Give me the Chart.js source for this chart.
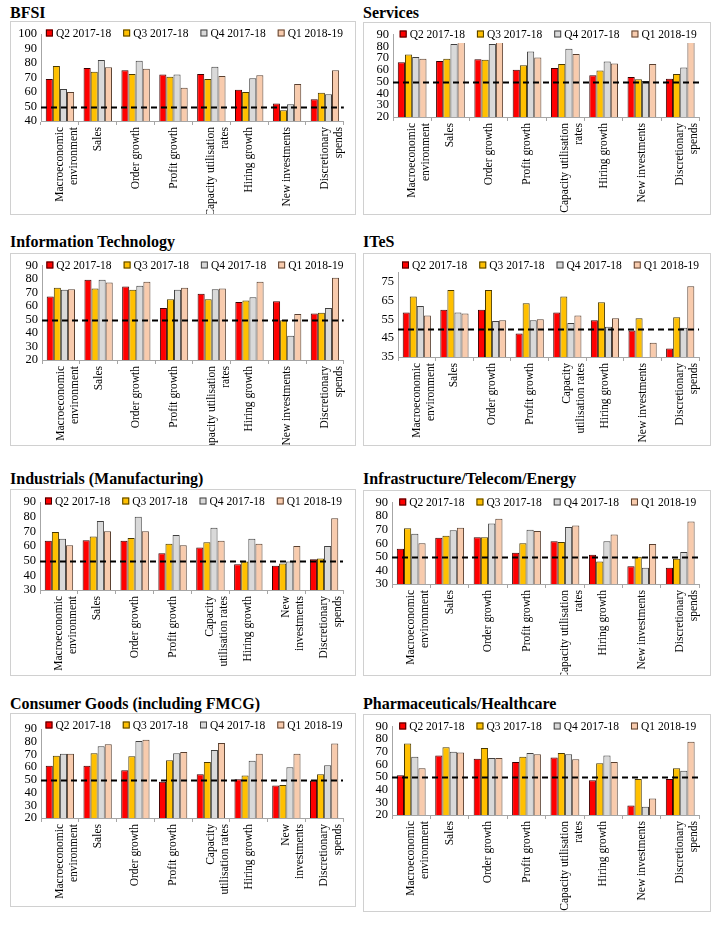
<!DOCTYPE html>
<html>
<head>
<meta charset="utf-8">
<script src="https://cdn.jsdelivr.net/npm/chart.js@4.4.1/dist/chart.umd.min.js"></script>
<style>
  body { margin: 0; background: #fff; font-family: "Liberation Serif", serif; }
  #page { position: relative; width: 720px; height: 928px; }
  .title { position: absolute; font-weight: bold; font-size: 16px; line-height: 16px; color: #000; white-space: nowrap; }
  .box { position: absolute; border: 1px solid #d0d0d0; box-sizing: border-box; }
  .box canvas { display: block; }
</style>
</head>
<body>
<div id="page"></div>
<script>
// series names
const seriesLabels = ['Q2 2017-18', 'Q3 2017-18', 'Q4 2017-18', 'Q1 2018-19'];

// category labels (line breaks differ a bit between panels)
const categoriesStd = [['Macroeconomic', 'environment'], 'Sales', 'Order growth', 'Profit growth',
  ['Capacity utilisation', 'rates'], 'Hiring growth', 'New investments', ['Discretionary', 'spends']];
const categoriesItes = [['Macroeconomic', 'environment'], 'Sales', 'Order growth', 'Profit growth',
  ['Capacity', 'utilisation rates'], 'Hiring growth', 'New investments', ['Discretionary', 'spends']];
const categoriesMfg = [['Macroeconomic', 'environment'], 'Sales', 'Order growth', 'Profit growth',
  ['Capacity', 'utilisation rates'], 'Hiring growth', ['New', 'investments'], ['Discretionary', 'spends']];

// y tick labels
const ticks40to100 = [40, 50, 60, 70, 80, 90, 100];
const ticks20to90 = [20, 30, 40, 50, 60, 70, 80, 90];
const ticks30to90 = [30, 40, 50, 60, 70, 80, 90];
const ticks35to75 = [35, 45, 55, 65, 75];

// neutral level drawn as the dashed line
const neutralLevel = 50;

// BFSI
const bfsiQ2 = [69, 76.5, 75, 72, 72.5, 61.5, 52, 55];
const bfsiQ3 = [78, 74, 72.5, 70.5, 69, 60, 47.5, 59.5];
const bfsiQ4 = [62, 82, 81.5, 72, 77.5, 69.5, 51.5, 58.5];
const bfsiQ1 = [60, 77, 76, 63, 71, 71.5, 65.5, 75];

// Services
const servQ2 = [66.5, 67.5, 69, 60, 61.5, 55.5, 54, 52.5];
const servQ3 = [73, 69.5, 68.5, 64, 65, 59.5, 52, 56.5];
const servQ4 = [71, 82, 82, 75.5, 78, 67, 50.5, 62];
const servQ1 = [69.5, 84, 84, 70.5, 73.5, 65.5, 65, 84];

// Information Technology
const itQ2 = [67, 79.5, 74.5, 58.5, 69, 63, 63.5, 54.5];
const itQ3 = [73.5, 73, 72, 65, 65, 64, 49.5, 55];
const itQ4 = [72, 79.5, 75, 72, 72.5, 66.5, 38, 58.5];
const itQ1 = [72.5, 77.5, 78, 73.5, 73, 78, 54, 81];

// ITeS
const itesQ2 = [58.5, 60, 60, 47.5, 58.5, 54.5, 49, 39.5];
const itesQ3 = [67, 70.5, 70.5, 63.5, 67, 64, 55.5, 56];
const itesQ4 = [62, 58.5, 54, 54.5, 53, 51, 34, 50.5];
const itesQ1 = [57, 58, 54.5, 55, 57, 55.5, 42.5, 72.5];

// Industrials (Manufacturing)
const mfgQ2 = [63.5, 64, 63.5, 55, 59, 47.5, 46.5, 51];
const mfgQ3 = [69.5, 66.5, 65.5, 61.5, 62.5, 49.5, 48, 51.5];
const mfgQ4 = [65, 77, 80, 67.5, 72.5, 65, 49.5, 60];
const mfgQ1 = [60.5, 70, 70, 60.5, 63.5, 61.5, 60, 79];

// Infrastructure/Telecom/Energy
const infraQ2 = [56, 64, 64.5, 53, 61.5, 51.5, 43, 42];
const infraQ3 = [71, 65.5, 64.5, 60, 61, 46.5, 50, 48.5];
const infraQ4 = [67, 69.5, 74.5, 70, 72, 61.5, 42, 53.5];
const infraQ1 = [60, 71.5, 78, 69, 73, 66.5, 59.5, 76];

// Consumer Goods (including FMCG)
const consQ2 = [61, 61, 57.5, 48.5, 54.5, 50.5, 45.5, 49.5];
const consQ3 = [69, 71, 68.5, 65.5, 64, 53.5, 46, 54.5];
const consQ4 = [70.5, 76.5, 80.5, 71, 73.5, 65, 60, 61.5];
const consQ1 = [70.5, 78, 81.5, 72, 79, 70.5, 70.5, 78.5];

// Pharmaceuticals/Healthcare
const pharmaQ2 = [51.5, 67, 64.5, 62, 65.5, 47.5, 27.5, 48.5];
const pharmaQ3 = [76.5, 73.5, 73, 66, 69, 61, 48.5, 57];
const pharmaQ4 = [66, 70, 65, 69, 68, 67, 26.5, 55];
const pharmaQ1 = [57, 69.5, 65, 68, 64, 62, 33, 78];

const fills = ['#FF0000', '#FFC000', '#D9D9D9', '#F8CBAD'];
const edges = ['#3b0000', '#4a3a00', '#404040', '#5a4030'];
const catFont = { family: '"Liberation Serif", serif', size: 11.5 };
const valFont = { family: '"Liberation Serif", serif', size: 12.5 };

// panel geometry: box position/size, title top, plot insets inside the canvas
const panels = [
  { title: 'BFSI', x: 10, y: 21, w: 346, h: 194, ty: 5, cats: categoriesStd,
    series: [bfsiQ2, bfsiQ3, bfsiQ4, bfsiQ1], min: 40, max: 100, ticks: ticks40to100,
    top: 12, bottom: 99, yw: 30, right: 8 },
  { title: 'Services', x: 363, y: 22, w: 348, h: 193, ty: 5, cats: categoriesStd,
    series: [servQ2, servQ3, servQ4, servQ1], min: 20, max: 90, ticks: ticks20to90,
    top: 5, bottom: 94, yw: 29, right: 3 },
  { title: 'Information Technology', x: 10, y: 253, w: 346, h: 193, ty: 234, cats: categoriesStd,
    series: [itQ2, itQ3, itQ4, itQ1], min: 20, max: 90, ticks: ticks20to90,
    top: 6, bottom: 106, yw: 31, right: 8 },
  { title: 'ITeS', x: 363, y: 253, w: 348, h: 193, ty: 234, cats: categoriesItes,
    series: [itesQ2, itesQ3, itesQ4, itesQ1], min: 35, max: 80, ticks: ticks35to75,
    top: 18, bottom: 103, yw: 34, right: 3 },
  { title: 'Industrials (Manufacturing)', x: 10, y: 489, w: 346, h: 187, ty: 471, cats: categoriesMfg,
    series: [mfgQ2, mfgQ3, mfgQ4, mfgQ1], min: 30, max: 90, ticks: ticks30to90,
    top: 12, bottom: 100, yw: 29, right: 12 },
  { title: 'Infrastructure/Telecom/Energy', x: 363, y: 490, w: 348, h: 186, ty: 471, cats: categoriesStd,
    series: [infraQ2, infraQ3, infraQ4, infraQ1], min: 30, max: 90, ticks: ticks30to90,
    top: 9, bottom: 93, yw: 28, right: 3 },
  { title: 'Consumer Goods (including FMCG)', x: 10, y: 713, w: 346, h: 194, ty: 696, cats: categoriesMfg,
    series: [consQ2, consQ3, consQ4, consQ1], min: 20, max: 90, ticks: ticks20to90,
    top: 15, bottom: 104, yw: 30, right: 12 },
  { title: 'Pharmaceuticals/Healthcare', x: 363, y: 714, w: 348, h: 198, ty: 696, cats: categoriesStd,
    series: [pharmaQ2, pharmaQ3, pharmaQ4, pharmaQ1], min: 20, max: 90, ticks: ticks20to90,
    top: 6, bottom: 100, yw: 28, right: 3 }
];

// dashed line at the neutral level, across the whole plot
const refLine = {
  id: 'refLine',
  afterDatasetsDraw(chart, args, opts) {
    const { ctx, chartArea, scales } = chart;
    const py = Math.round(scales.y.getPixelForValue(opts.value)) + 0.5;
    ctx.save();
    ctx.strokeStyle = '#000';
    ctx.lineWidth = 2;
    ctx.setLineDash([6, 4]);
    ctx.beginPath();
    ctx.moveTo(chartArea.left, py);
    ctx.lineTo(chartArea.right, py);
    ctx.stroke();
    ctx.restore();
  }
};

// legend laid over the top of the plot, white behind it (like the excel original)
const overlayLegend = {
  id: 'overlayLegend',
  afterDatasetsDraw(chart, args, opts) {
    const { ctx, chartArea } = chart;
    const sq = 7, gap = 3, spacing = 12;
    ctx.save();
    ctx.font = '11.5px "Liberation Serif", serif';
    const items = chart.data.datasets.map(d => ({
      text: d.label, fill: d.backgroundColor, edge: d.borderColor,
      w: sq + gap + ctx.measureText(d.label).width
    }));
    const total = items.reduce((s, it) => s + it.w, 0) + spacing * (items.length - 1);
    let x = (chartArea.left + chartArea.right - total) / 2 + 2;
    const y = opts.y;
    ctx.fillStyle = '#fff';
    ctx.fillRect(x - 3, y - 8, total + 6, 17);
    ctx.textBaseline = 'middle';
    items.forEach(it => {
      ctx.fillStyle = it.fill;
      ctx.fillRect(x, y - sq / 2, sq, sq);
      ctx.strokeStyle = it.edge;
      ctx.lineWidth = 1;
      ctx.strokeRect(x + 0.5, y - sq / 2 + 0.5, sq - 1, sq - 1);
      ctx.fillStyle = '#000';
      ctx.fillText(it.text, x + sq + gap, y + 0.5);
      x += it.w + spacing;
    });
    ctx.restore();
  }
};

const page = document.getElementById('page');

panels.forEach(p => {
  const t = document.createElement('div');
  t.className = 'title';
  t.textContent = p.title;
  t.style.left = p.x + 'px';
  t.style.top = p.ty + 'px';
  page.appendChild(t);

  const box = document.createElement('div');
  box.className = 'box';
  box.style.left = p.x + 'px';
  box.style.top = p.y + 'px';
  box.style.width = p.w + 'px';
  box.style.height = p.h + 'px';
  page.appendChild(box);

  const cw = p.w - 2, ch = p.h - 2;
  const canvas = document.createElement('canvas');
  canvas.width = cw;
  canvas.height = ch;
  canvas.style.width = cw + 'px';
  canvas.style.height = ch + 'px';
  box.appendChild(canvas);

  new Chart(canvas.getContext('2d'), {
    type: 'bar',
    data: {
      labels: p.cats,
      datasets: p.series.map((vals, i) => ({
        label: seriesLabels[i],
        data: vals,
        backgroundColor: fills[i],
        borderColor: edges[i],
        borderWidth: 1,
        categoryPercentage: 0.75,
        barPercentage: 1
      }))
    },
    options: {
      responsive: false,
      animation: false,
      layout: { padding: { top: p.top, right: p.right, bottom: 0, left: 0 } },
      plugins: {
        legend: { display: false },
        tooltip: { enabled: false },
        refLine: { value: neutralLevel },
        overlayLegend: { y: 11 }
      },
      scales: {
        x: {
          grid: { display: true, drawOnChartArea: false, offset: true, tickLength: 4, color: '#a6a6a6' },
          border: { display: true, color: '#a6a6a6' },
          ticks: { autoSkip: false, minRotation: 90, maxRotation: 90, color: '#000', font: catFont, padding: 2 },
          afterFit: s => { s.height = ch - p.bottom; }
        },
        y: {
          min: p.min,
          max: p.max,
          afterBuildTicks: s => { s.ticks = p.ticks.map(v => ({ value: v })); },
          grid: { display: true, drawOnChartArea: false, drawTicks: false },
          border: { display: true, color: '#a6a6a6' },
          ticks: { autoSkip: false, color: '#000', font: valFont, padding: 4 },
          afterFit: s => { s.width = p.yw; }
        }
      }
    },
    plugins: [refLine, overlayLegend]
  });
});
</script>
</body>
</html>
